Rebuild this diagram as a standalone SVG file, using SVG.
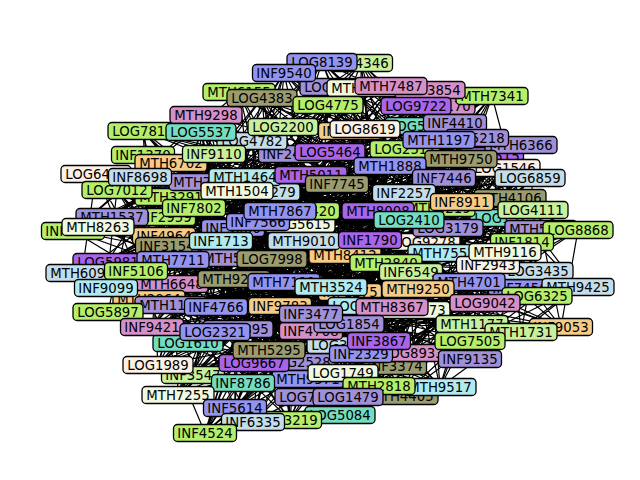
<svg xmlns="http://www.w3.org/2000/svg" xmlns:xlink="http://www.w3.org/1999/xlink" width="640" height="480" viewBox="0 0 640 480">
<style>
use{stroke:#000;stroke-width:1.3}
text{font-family:"DejaVu Sans","Liberation Sans",sans-serif;font-size:13.3px;text-anchor:middle;fill:#000}
.e{fill:none;stroke:#000;stroke-width:1.2}
.g1{fill:#b4ee6a}.g2{fill:#c8f09c}.pu{fill:#a865e8}.bl{fill:#9494ee}.ol{fill:#9b9b70}.pk{fill:#d690c8}.te{fill:#74dcc0}.lb{fill:#c5dde8}.cr{fill:#fcf1e4}.iv{fill:#f1f8e0}.cy{fill:#b0e9ef}.or{fill:#f4cc88}.gp{fill:#a090d8}
</style>
<defs>
<rect id="L" x="-35" y="-8.5" width="70" height="17" rx="4"/>
<rect id="M" x="-36" y="-8.5" width="72" height="17" rx="4"/>
<rect id="I" x="-31.5" y="-8.5" width="63" height="17" rx="4"/>
</defs>
<rect width="640" height="480" fill="#fff"/>
<g id="edges">
<path class="e" d="M322 62L418 289L521 332L386 263L470 341L370 240L300 362L439 208L310 397L444 253L340 415L485 303L440 387L578 287L379 386L469 282L395 365L488 265L361 354L522 242L342 345L541 229L311 331L505 218L269 350L462 202L243 383L337 184L235 408L330 152L178 395L420 126L158 365L365 129L215 332L444 178L152 327L505 168L171 305L461 159L172 284L477 138L136 271L455 123L108 261L237 191L167 246L247 177L73 231L252 141L112 214L214 154L171 197L140 177L216 307L171 163L284 282L143 131L272 259L206 115L221 241L363 88L258 222L492 96L308 211L328 105L304 241L239 92L350 292L391 86L363 306L361 63L392 307L561 327L411 272L470 359L425 242L472 324L409 220L308 379L378 211L290 420L448 228L348 397L537 296L402 396L520 288L343 373L538 271L413 350L505 252L379 341L578 230L349 324L533 210L311 314L510 198L254 363L404 193L253 422L311 175L205 433L405 149L193 375L350 131L238 329L390 166L188 343L530 178L108 312L492 156L149 299L521 145L106 288L439 140L82 273L265 192L173 260L205 182L164 234L290 154L98 227L283 127L194 208L117 190L164 217L96 174L280 306L143 155L234 279L201 132L235 258L440 106L233 228L335 87L280 211L416 106L300 224L262 98L345 255L430 90L331 287L284 73L415 310Z"/>
<path class="e" d="M322 62L444 178L363 306L238 329L430 90L420 126L304 241L205 433L416 106L337 184L258 222L254 363L440 106L505 218L272 259L349 324L143 155L522 242L216 307L413 350L117 190L469 282L112 214L402 396L290 154L485 303L167 246L290 420L265 192L439 208L136 271L472 324L521 145L386 263L171 305L561 327L530 178L415 310L215 332L391 86L350 131L345 255L178 395L328 105L311 175L280 211L243 383L363 88L510 198L235 258L311 331L143 131L578 230L280 306L361 354L140 177L538 271L194 208L379 386L252 141L537 296L164 234L340 415L237 191L378 211L82 273L300 362L477 138L425 242L149 299L521 332L505 168L392 307L188 343L284 73L365 129L350 292L193 375L262 98L330 152L308 211L253 422L335 87L462 202L221 241L311 314L201 132L541 229L284 282L379 341L96 174L488 265L171 197L343 373L283 127L578 287L73 231L348 397L205 182L444 253L108 261L308 379L439 140L370 240L172 284L470 359L492 156L418 289L152 327L361 63L390 166L331 287L158 365L239 92L405 149L300 224L235 408L492 96L404 193L233 228L269 350L206 115L533 210L234 279L342 345L171 163L505 252L164 217L395 365L214 154L520 288L98 227L440 387L247 177L448 228L173 260L310 397L455 123L409 220L106 288L470 341L461 159L411 272L108 312Z"/>
<path class="e" d="M322 62L522 242L171 305L143 131L425 242L311 314L439 140L233 228L310 397L337 184L167 246L328 105L537 296L193 375L283 127L331 287L395 365L444 178L216 307L561 327L578 230L149 299L201 132L370 240L269 350L455 123L258 222L290 420L311 175L164 234L262 98L578 287L158 365L214 154L363 306L413 350L530 178L280 306L521 332L541 229L172 284L206 115L409 220L254 363L265 192L280 211L340 415L330 152L73 231L239 92L520 288L238 329L117 190L415 310L361 354L505 168L284 282L470 359L533 210L106 288L440 106L439 208L243 383L237 191L308 211L348 397L405 149L98 227L430 90L469 282L215 332L140 177L392 307L379 341L492 156L234 279L470 341L505 218L136 271L363 88L378 211L253 422L205 182L300 224L440 387L420 126L112 214L391 86L538 271L188 343L96 174L418 289L342 345L461 159L272 259L472 324L510 198L82 273L335 87L444 253L235 408L247 177L304 241L402 396L350 131L194 208L284 73L488 265L152 327L171 163L411 272L349 324L521 145L235 258L300 362L462 202L108 261L492 96L448 228L205 433L290 154L345 255L379 386L365 129L171 197L361 63L505 252L108 312L143 155L386 263L311 331L477 138L221 241L308 379L404 193L173 260L416 106L485 303L178 395L252 141L350 292L343 373L390 166L164 217Z"/>
<path class="e" d="M322 62L485 303L311 331L365 129L108 261L171 163L304 241L472 324L538 271L253 422L492 156L98 227L440 106L415 310L340 415L541 229L158 365L455 123L216 307L328 105L425 242L343 373L404 193L108 312L290 154L235 258L284 73L444 253L342 345L420 126L136 271L140 177L308 211L470 359L520 288L254 363L530 178L164 234L201 132L331 287L310 397L522 242L178 395L477 138L171 197L492 96L411 272L402 396L510 198L188 343L205 182L234 279L430 90L439 208L361 354L330 152L172 284L214 154L258 222L561 327L537 296L311 314L390 166L173 260L143 155L345 255L300 362L488 265L235 408L461 159L112 214L363 88L392 307L348 397L533 210L238 329L265 192L280 306L262 98L370 240L395 365L337 184L171 305L252 141L221 241L361 63L448 228L349 324L350 131L82 273L96 174L300 224L470 341L469 282L243 383L505 168L73 231L206 115L363 306L290 420L578 230L193 375L439 140L164 217L416 106L386 263L379 386L462 202L152 327L247 177L272 259L391 86L378 211L379 341L405 149L106 288L117 190L280 211L521 332L578 287L269 350L444 178L167 246L143 131L350 292L308 379L505 252L205 433L521 145L194 208L335 87L418 289L440 387L505 218L215 332L237 191L284 282L239 92L409 220L413 350L311 175L149 299L283 127L233 228Z"/>
<path class="e" d="M322 62L455 123L520 288L234 279L235 408L361 63L439 140L578 287L284 282L253 422L284 73L477 138L537 296L280 306L243 383L391 86L521 145L485 303L216 307L254 363L430 90L461 159L448 228L164 217L269 350L239 92L492 156L444 253L171 197L311 314L262 98L505 168L378 211L194 208L311 331L328 105L530 178L439 208L112 214L349 324L416 106L444 178L409 220L98 227L342 345L492 96L390 166L370 240L73 231L379 341L335 87L365 129L425 242L164 234L361 354L363 88L350 131L386 263L167 246L413 350L440 106L420 126L411 272L173 260L395 365L206 115L405 149L418 289L108 261L343 373L201 132L330 152L392 307L82 273L379 386L143 131L311 175L415 310L136 271L402 396L143 155L337 184L363 306L106 288L440 387L171 163L404 193L331 287L172 284L348 397L96 174L462 202L350 292L149 299L340 415L140 177L510 198L345 255L171 305L290 420L117 190L505 218L304 241L108 312L310 397L214 154L533 210L300 224L152 327L308 379L283 127L541 229L308 211L188 343L300 362L252 141L578 230L280 211L215 332L472 324L290 154L522 242L258 222L238 329L470 341L247 177L505 252L233 228L158 365L470 359L205 182L488 265L221 241L193 375L521 332L237 191L538 271L235 258L178 395L561 327L265 192L469 282L272 259L205 433Z"/>
<path class="e" d="M322 62L462 202L112 214L470 359L311 175L164 217L300 362L420 126L284 282L290 420L390 166L235 258L440 387L505 168L258 222L343 373L521 145L300 224L361 354L455 123L350 292L349 324L205 182L415 310L269 350L252 141L411 272L253 422L117 190L370 240L178 395L171 163L378 211L238 329L201 132L485 303L152 327L363 88L520 288L149 299L416 106L488 265L136 271L239 92L578 230L173 260L284 73L505 218L73 231L561 327L404 193L194 208L470 341L330 152L216 307L308 379L350 131L234 279L340 415L444 178L221 241L402 396L492 156L280 211L395 365L477 138L304 241L379 341L265 192L331 287L311 331L247 177L392 307L254 363L283 127L386 263L235 408L140 177L409 220L193 375L143 155L444 253L215 332L206 115L537 296L108 312L335 87L469 282L172 284L328 105L505 252L82 273L430 90L541 229L167 246L361 63L510 198L98 227L521 332L337 184L171 197L472 324L405 149L280 306L310 397L365 129L272 259L348 397L530 178L233 228L379 386L461 159L308 211L413 350L439 140L345 255L342 345L237 191L363 306L311 314L290 154L418 289L243 383L214 154L425 242L205 433L96 174L439 208L158 365L143 131L448 228L188 343L440 106L578 287L171 305L492 96L538 271L106 288L262 98L522 242L108 261L391 86L533 210L164 234Z"/>
</g>
<g id="nodes">
<g id="n-LOG7150" transform="translate(335,87)"><use href="#L" class="gp"/><text y="5">LOG7150</text></g>
<g id="n-INF4346" transform="translate(361,63)"><use href="#I" class="g2"/><text y="5">INF4346</text></g>
<g id="n-MTH3120" transform="translate(363,88)"><use href="#M" class="iv"/><text y="5">MTH3120</text></g>
<g id="n-LOG4170" transform="translate(440,106)"><use href="#L" class="pk"/><text y="5">LOG4170</text></g>
<g id="n-INF6812" transform="translate(350,131)"><use href="#I" class="or"/><text y="5">INF6812</text></g>
<g id="n-LOG5057" transform="translate(420,126)"><use href="#L" class="te"/><text y="5">LOG5057</text></g>
<g id="n-INF2417" transform="translate(290,154)"><use href="#I" class="gp"/><text y="5">INF2417</text></g>
<g id="n-LOG4782" transform="translate(252,141)"><use href="#L" class="lb"/><text y="5">LOG4782</text></g>
<g id="n-MTH3291" transform="translate(171,197)"><use href="#M" class="g1"/><text y="5">MTH3291</text></g>
<g id="n-INF2959" transform="translate(164,217)"><use href="#I" class="g1"/><text y="5">INF2959</text></g>
<g id="n-MTH1537" transform="translate(112,217)"><use href="#M" class="gp"/><text y="5">MTH1537</text></g>
<g id="n-INF1243" transform="translate(73,231)"><use href="#I" class="g1"/><text y="5">INF1243</text></g>
<g id="n-INF4964" transform="translate(164,236)"><use href="#I" class="or"/><text y="5">INF4964</text></g>
<g id="n-INF3154" transform="translate(167,246)"><use href="#I" class="ol"/><text y="5">INF3154</text></g>
<g id="n-LOG5981" transform="translate(108,262)"><use href="#L" class="pu"/><text y="5">LOG5981</text></g>
<g id="n-MTH6648" transform="translate(172,284)"><use href="#M" class="pk"/><text y="5">MTH6648</text></g>
<g id="n-MTH2064" transform="translate(149,299)"><use href="#M" class="or"/><text y="5">MTH2064</text></g>
<g id="n-MTH1149" transform="translate(171,305)"><use href="#M" class="gp"/><text y="5">MTH1149</text></g>
<g id="n-LOG1610" transform="translate(188,343)"><use href="#L" class="te"/><text y="5">LOG1610</text></g>
<g id="n-INF3547" transform="translate(193,375)"><use href="#I" class="g2"/><text y="5">INF3547</text></g>
<g id="n-LOG2528" transform="translate(300,362)"><use href="#L" class="gp"/><text y="5">LOG2528</text></g>
<g id="n-MTH9371" transform="translate(308,379)"><use href="#M" class="bl"/><text y="5">MTH9371</text></g>
<g id="n-LOG7623" transform="translate(310,397)"><use href="#L" class="gp"/><text y="5">LOG7623</text></g>
<g id="n-LOG3621" transform="translate(342,345)"><use href="#L" class="lb"/><text y="5">LOG3621</text></g>
<g id="n-LOG5395" transform="translate(238,329)"><use href="#L" class="gp"/><text y="5">LOG5395</text></g>
<g id="n-INF4708" transform="translate(311,331)"><use href="#I" class="pk"/><text y="5">INF4708</text></g>
<g id="n-MTH4405" transform="translate(402,396)"><use href="#M" class="ol"/><text y="5">MTH4405</text></g>
<g id="n-INF3374" transform="translate(395,366)"><use href="#I" class="ol"/><text y="5">INF3374</text></g>
<g id="n-LOG8933" transform="translate(413,353)"><use href="#L" class="pk"/><text y="5">LOG8933</text></g>
<g id="n-MTH4106" transform="translate(510,198)"><use href="#M" class="ol"/><text y="5">MTH4106</text></g>
<g id="n-LOG1325" transform="translate(505,218)"><use href="#L" class="te"/><text y="5">LOG1325</text></g>
<g id="n-MTH5482" transform="translate(541,229)"><use href="#M" class="gp"/><text y="5">MTH5482</text></g>
<g id="n-INF7456" transform="translate(520,288)"><use href="#I" class="bl"/><text y="5">INF7456</text></g>
<g id="n-LOG9278" transform="translate(425,242)"><use href="#L" class="cr"/><text y="5">LOG9278</text></g>
<g id="n-LOG5615" transform="translate(300,224)"><use href="#L" class="iv"/><text y="5">LOG5615</text></g>
<g id="n-INF8420" transform="translate(308,211)"><use href="#I" class="g1"/><text y="5">INF8420</text></g>
<g id="n-MTH6219" transform="translate(439,208)"><use href="#M" class="g1"/><text y="5">MTH6219</text></g>
<g id="n-INF3086" transform="translate(233,228)"><use href="#I" class="bl"/><text y="5">INF3086</text></g>
<g id="n-MTH5539" transform="translate(235,258)"><use href="#M" class="gp"/><text y="5">MTH5539</text></g>
<g id="n-MTH8412" transform="translate(345,255)"><use href="#M" class="or"/><text y="5">MTH8412</text></g>
<g id="n-INF1275" transform="translate(350,292)"><use href="#I" class="or"/><text y="5">INF1275</text></g>
<g id="n-LOG6281" transform="translate(363,306)"><use href="#L" class="cy"/><text y="5">LOG6281</text></g>
<g id="n-LOG8273" transform="translate(415,310)"><use href="#L" class="iv"/><text y="5">LOG8273</text></g>
<g id="n-MTH7468" transform="translate(205,182)"><use href="#M" class="gp"/><text y="5">MTH7468</text></g>
<g id="n-INF2515" transform="translate(492,156)"><use href="#I" class="pu"/><text y="5">INF2515</text></g>
<g id="n-LOG1546" transform="translate(505,168)"><use href="#L" class="cr"/><text y="5">LOG1546</text></g>
<g id="n-LOG4279" transform="translate(265,192)"><use href="#L" class="lb"/><text y="5">LOG4279</text></g>
<g id="n-LOG2517" transform="translate(405,149)"><use href="#L" class="g1"/><text y="5">LOG2517</text></g>
<g id="n-LOG7815" transform="translate(143,131)"><use href="#L" class="g1"/><text y="5">LOG7815</text></g>
<g id="n-INF1370" transform="translate(143,155)"><use href="#I" class="g1"/><text y="5">INF1370</text></g>
<g id="n-MTH6702" transform="translate(171,163)"><use href="#M" class="or"/><text y="5">MTH6702</text></g>
<g id="n-LOG6421" transform="translate(96,174)"><use href="#L" class="cr"/><text y="5">LOG6421</text></g>
<g id="n-LOG7012" transform="translate(117,190)"><use href="#L" class="g1"/><text y="5">LOG7012</text></g>
<g id="n-MTH1464" transform="translate(245,177)"><use href="#M" class="cy"/><text y="5">MTH1464</text></g>
<g id="n-INF8698" transform="translate(140,177)"><use href="#I" class="lb"/><text y="5">INF8698</text></g>
<g id="n-MTH9298" transform="translate(206,115)"><use href="#M" class="pk"/><text y="5">MTH9298</text></g>
<g id="n-LOG5537" transform="translate(201,132)"><use href="#L" class="te"/><text y="5">LOG5537</text></g>
<g id="n-INF9110" transform="translate(214,154)"><use href="#I" class="g2"/><text y="5">INF9110</text></g>
<g id="n-MTH6155" transform="translate(239,92)"><use href="#M" class="g1"/><text y="5">MTH6155</text></g>
<g id="n-LOG4383" transform="translate(262,98)"><use href="#L" class="ol"/><text y="5">LOG4383</text></g>
<g id="n-LOG8139" transform="translate(322,62)"><use href="#L" class="bl"/><text y="5">LOG8139</text></g>
<g id="n-INF9540" transform="translate(284,73)"><use href="#I" class="bl"/><text y="5">INF9540</text></g>
<g id="n-LOG4775" transform="translate(328,105)"><use href="#L" class="g1"/><text y="5">LOG4775</text></g>
<g id="n-LOG2200" transform="translate(283,127)"><use href="#L" class="g2"/><text y="5">LOG2200</text></g>
<g id="n-MTH7341" transform="translate(492,96)"><use href="#M" class="g1"/><text y="5">MTH7341</text></g>
<g id="n-LOG3854" transform="translate(430,90)"><use href="#L" class="pk"/><text y="5">LOG3854</text></g>
<g id="n-MTH7487" transform="translate(391,86)"><use href="#M" class="pk"/><text y="5">MTH7487</text></g>
<g id="n-LOG9722" transform="translate(416,106)"><use href="#L" class="pu"/><text y="5">LOG9722</text></g>
<g id="n-LOG5464" transform="translate(330,152)"><use href="#L" class="pu"/><text y="5">LOG5464</text></g>
<g id="n-LOG8619" transform="translate(365,129)"><use href="#L" class="cr"/><text y="5">LOG8619</text></g>
<g id="n-INF4410" transform="translate(455,123)"><use href="#I" class="gp"/><text y="5">INF4410</text></g>
<g id="n-MTH6366" transform="translate(521,145)"><use href="#M" class="gp"/><text y="5">MTH6366</text></g>
<g id="n-INF5218" transform="translate(477,138)"><use href="#I" class="gp"/><text y="5">INF5218</text></g>
<g id="n-MTH1197" transform="translate(439,140)"><use href="#M" class="bl"/><text y="5">MTH1197</text></g>
<g id="n-MTH9750" transform="translate(461,159)"><use href="#M" class="ol"/><text y="5">MTH9750</text></g>
<g id="n-MTH1888" transform="translate(390,166)"><use href="#M" class="bl"/><text y="5">MTH1888</text></g>
<g id="n-INF7446" transform="translate(444,178)"><use href="#I" class="gp"/><text y="5">INF7446</text></g>
<g id="n-LOG6859" transform="translate(530,178)"><use href="#L" class="lb"/><text y="5">LOG6859</text></g>
<g id="n-MTH5011" transform="translate(311,175)"><use href="#M" class="pu"/><text y="5">MTH5011</text></g>
<g id="n-INF7745" transform="translate(337,184)"><use href="#I" class="ol"/><text y="5">INF7745</text></g>
<g id="n-MTH1504" transform="translate(237,191)"><use href="#M" class="iv"/><text y="5">MTH1504</text></g>
<g id="n-INF2257" transform="translate(404,193)"><use href="#I" class="lb"/><text y="5">INF2257</text></g>
<g id="n-INF7802" transform="translate(194,208)"><use href="#I" class="g1"/><text y="5">INF7802</text></g>
<g id="n-INF7566" transform="translate(258,222)"><use href="#I" class="bl"/><text y="5">INF7566</text></g>
<g id="n-MTH7867" transform="translate(280,211)"><use href="#M" class="bl"/><text y="5">MTH7867</text></g>
<g id="n-MTH8008" transform="translate(378,211)"><use href="#M" class="pu"/><text y="5">MTH8008</text></g>
<g id="n-LOG3179" transform="translate(448,228)"><use href="#L" class="gp"/><text y="5">LOG3179</text></g>
<g id="n-LOG2410" transform="translate(409,220)"><use href="#L" class="te"/><text y="5">LOG2410</text></g>
<g id="n-INF8911" transform="translate(462,202)"><use href="#I" class="or"/><text y="5">INF8911</text></g>
<g id="n-LOG4111" transform="translate(533,210)"><use href="#L" class="g2"/><text y="5">LOG4111</text></g>
<g id="n-LOG8868" transform="translate(578,230)"><use href="#L" class="g1"/><text y="5">LOG8868</text></g>
<g id="n-INF1814" transform="translate(522,242)"><use href="#I" class="g1"/><text y="5">INF1814</text></g>
<g id="n-MTH8263" transform="translate(98,227)"><use href="#M" class="iv"/><text y="5">MTH8263</text></g>
<g id="n-MTH7711" transform="translate(173,260)"><use href="#M" class="bl"/><text y="5">MTH7711</text></g>
<g id="n-MTH6094" transform="translate(82,273)"><use href="#M" class="lb"/><text y="5">MTH6094</text></g>
<g id="n-INF5106" transform="translate(136,271)"><use href="#I" class="g1"/><text y="5">INF5106</text></g>
<g id="n-INF9099" transform="translate(106,288)"><use href="#I" class="cy"/><text y="5">INF9099</text></g>
<g id="n-LOG5897" transform="translate(108,312)"><use href="#L" class="g1"/><text y="5">LOG5897</text></g>
<g id="n-INF1713" transform="translate(221,241)"><use href="#I" class="cy"/><text y="5">INF1713</text></g>
<g id="n-MTH9010" transform="translate(304,241)"><use href="#M" class="lb"/><text y="5">MTH9010</text></g>
<g id="n-INF1790" transform="translate(370,240)"><use href="#I" class="pu"/><text y="5">INF1790</text></g>
<g id="n-MTH7552" transform="translate(444,253)"><use href="#M" class="cy"/><text y="5">MTH7552</text></g>
<g id="n-LOG7998" transform="translate(272,259)"><use href="#L" class="ol"/><text y="5">LOG7998</text></g>
<g id="n-MTH9237" transform="translate(234,279)"><use href="#M" class="ol"/><text y="5">MTH9237</text></g>
<g id="n-MTH7111" transform="translate(284,282)"><use href="#M" class="bl"/><text y="5">MTH7111</text></g>
<g id="n-MTH2840" transform="translate(386,263)"><use href="#M" class="g1"/><text y="5">MTH2840</text></g>
<g id="n-INF6549" transform="translate(411,272)"><use href="#I" class="g2"/><text y="5">INF6549</text></g>
<g id="n-LOG3435" transform="translate(538,271)"><use href="#L" class="lb"/><text y="5">LOG3435</text></g>
<g id="n-INF2943" transform="translate(488,265)"><use href="#I" class="cr"/><text y="5">INF2943</text></g>
<g id="n-MTH9116" transform="translate(505,252)"><use href="#M" class="iv"/><text y="5">MTH9116</text></g>
<g id="n-MTH4701" transform="translate(469,282)"><use href="#M" class="bl"/><text y="5">MTH4701</text></g>
<g id="n-MTH9425" transform="translate(578,287)"><use href="#M" class="lb"/><text y="5">MTH9425</text></g>
<g id="n-LOG6325" transform="translate(537,296)"><use href="#L" class="g1"/><text y="5">LOG6325</text></g>
<g id="n-MTH3524" transform="translate(331,287)"><use href="#M" class="cy"/><text y="5">MTH3524</text></g>
<g id="n-MTH9250" transform="translate(418,289)"><use href="#M" class="or"/><text y="5">MTH9250</text></g>
<g id="n-LOG9042" transform="translate(485,303)"><use href="#L" class="pk"/><text y="5">LOG9042</text></g>
<g id="n-MTH8367" transform="translate(392,307)"><use href="#M" class="pk"/><text y="5">MTH8367</text></g>
<g id="n-INF4766" transform="translate(216,307)"><use href="#I" class="bl"/><text y="5">INF4766</text></g>
<g id="n-INF9783" transform="translate(280,306)"><use href="#I" class="or"/><text y="5">INF9783</text></g>
<g id="n-LOG1854" transform="translate(349,324)"><use href="#L" class="gp"/><text y="5">LOG1854</text></g>
<g id="n-INF3477" transform="translate(311,314)"><use href="#I" class="gp"/><text y="5">INF3477</text></g>
<g id="n-INF9421" transform="translate(152,327)"><use href="#I" class="pk"/><text y="5">INF9421</text></g>
<g id="n-LOG2321" transform="translate(215,332)"><use href="#L" class="bl"/><text y="5">LOG2321</text></g>
<g id="n-MTH1177" transform="translate(472,324)"><use href="#M" class="g2"/><text y="5">MTH1177</text></g>
<g id="n-INF9053" transform="translate(561,327)"><use href="#I" class="or"/><text y="5">INF9053</text></g>
<g id="n-MTH1731" transform="translate(521,332)"><use href="#M" class="g2"/><text y="5">MTH1731</text></g>
<g id="n-LOG7505" transform="translate(470,341)"><use href="#L" class="g1"/><text y="5">LOG7505</text></g>
<g id="n-INF9135" transform="translate(470,359)"><use href="#I" class="gp"/><text y="5">INF9135</text></g>
<g id="n-INF2329" transform="translate(361,354)"><use href="#I" class="bl"/><text y="5">INF2329</text></g>
<g id="n-INF3867" transform="translate(379,341)"><use href="#I" class="pu"/><text y="5">INF3867</text></g>
<g id="n-LOG9667" transform="translate(254,363)"><use href="#L" class="pu"/><text y="5">LOG9667</text></g>
<g id="n-MTH5295" transform="translate(269,350)"><use href="#M" class="ol"/><text y="5">MTH5295</text></g>
<g id="n-LOG1989" transform="translate(158,365)"><use href="#L" class="cr"/><text y="5">LOG1989</text></g>
<g id="n-INF8786" transform="translate(243,383)"><use href="#I" class="te"/><text y="5">INF8786</text></g>
<g id="n-MTH7255" transform="translate(178,395)"><use href="#M" class="iv"/><text y="5">MTH7255</text></g>
<g id="n-LOG1749" transform="translate(343,373)"><use href="#L" class="iv"/><text y="5">LOG1749</text></g>
<g id="n-MTH9517" transform="translate(440,387)"><use href="#M" class="cy"/><text y="5">MTH9517</text></g>
<g id="n-MTH2818" transform="translate(379,386)"><use href="#M" class="g1"/><text y="5">MTH2818</text></g>
<g id="n-LOG1479" transform="translate(348,397)"><use href="#L" class="gp"/><text y="5">LOG1479</text></g>
<g id="n-LOG5084" transform="translate(340,415)"><use href="#L" class="te"/><text y="5">LOG5084</text></g>
<g id="n-INF3219" transform="translate(290,420)"><use href="#I" class="g1"/><text y="5">INF3219</text></g>
<g id="n-INF5614" transform="translate(235,408)"><use href="#I" class="bl"/><text y="5">INF5614</text></g>
<g id="n-INF6335" transform="translate(253,422)"><use href="#I" class="lb"/><text y="5">INF6335</text></g>
<g id="n-INF4524" transform="translate(205,433)"><use href="#I" class="g1"/><text y="5">INF4524</text></g>
</g>
</svg>
